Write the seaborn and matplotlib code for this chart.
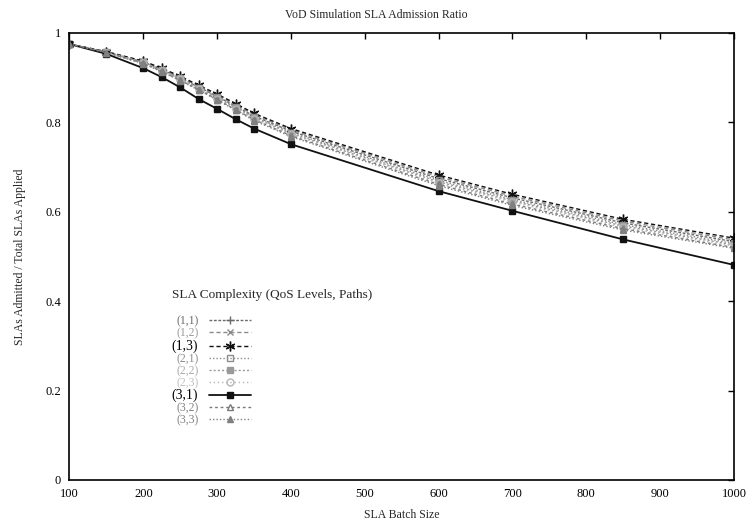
import matplotlib
matplotlib.use("Agg")
import matplotlib.pyplot as plt
import seaborn as sns
import pandas as pd

# SLA batch sizes on the x axis
batch_sizes = [100, 150, 200, 225, 250, 275, 300, 325, 350, 400, 600, 700, 850, 1000]

# admission ratio per SLA complexity (QoS levels, paths)
ratio_1_1 = [.975, .957, .935, .918, .899, .879, .858, .836, .814, .780, .674, .631, .575, .533]
ratio_1_2 = [.975, .958, .936, .920, .901, .881, .860, .839, .817, .783, .678, .635, .579, .537]
ratio_1_3 = [.975, .958, .937, .921, .903, .883, .863, .842, .820, .786, .682, .639, .583, .541]
ratio_2_1 = [.975, .957, .934, .917, .898, .877, .856, .834, .812, .777, .670, .627, .571, .529]
ratio_2_2 = [.975, .957, .934, .916, .897, .876, .855, .832, .810, .775, .667, .624, .568, .526]
ratio_2_3 = [.975, .956, .933, .915, .896, .875, .853, .830, .808, .773, .664, .621, .565, .523]
ratio_3_1 = [.975, .953, .921, .901, .878, .852, .830, .807, .786, .751, .646, .602, .538, .481]
ratio_3_2 = [.975, .956, .932, .914, .894, .873, .851, .828, .806, .770, .661, .617, .562, .520]
ratio_3_3 = [.975, .956, .931, .913, .893, .872, .850, .827, .804, .768, .658, .614, .559, .518]

series_labels = ["(1,1)", "(1,2)", "(1,3)", "(2,1)", "(2,2)", "(2,3)", "(3,1)", "(3,2)", "(3,3)"]
series_values = [ratio_1_1, ratio_1_2, ratio_1_3, ratio_2_1, ratio_2_2,
                 ratio_2_3, ratio_3_1, ratio_3_2, ratio_3_3]

x_ticks = [100, 200, 300, 400, 500, 600, 700, 800, 900, 1000]
y_ticks = [0, 0.2, 0.4, 0.6, 0.8, 1.0]
y_tick_labels = ["0", "0.2", "0.4", "0.6", "0.8", "1"]

# drawing styles per series: colour, linestyle, marker, marker fill
styles = {
    "(1,1)": dict(color="#6a6a6a", ls=(0, (2, 1.2)), marker="+", mfc="#6a6a6a", ms=6),
    "(1,2)": dict(color="#8a8a8a", ls=(0, (3, 2)), marker="x", mfc="#8a8a8a", ms=5),
    "(1,3)": dict(color="#111111", ls=(0, (3, 2)), marker=(6, 2, 0), mfc="#111111", ms=7),
    "(2,1)": dict(color="#8c8c8c", ls=(0, (1, 1.5)), marker="s", mfc="none", ms=5),
    "(2,2)": dict(color="#9a9a9a", ls=(0, (1.5, 1.5)), marker="s", mfc="#9a9a9a", ms=5),
    "(2,3)": dict(color="#b5b5b5", ls=(0, (1, 2)), marker="o", mfc="none", ms=5),
    "(3,1)": dict(color="#111111", ls="-", marker="s", mfc="#111111", ms=5),
    "(3,2)": dict(color="#7a7a7a", ls=(0, (2, 2)), marker="^", mfc="none", ms=5),
    "(3,3)": dict(color="#808080", ls=(0, (1, 1.5)), marker="^", mfc="#808080", ms=5),
}

rows = []
for label, vals in zip(series_labels, series_values):
    for bx, v in zip(batch_sizes, vals):
        rows.append({"batch": bx, "ratio": v, "complexity": label})
df = pd.DataFrame(rows)

sns.set_theme(style="white")
plt.rcParams["font.family"] = ["Liberation Serif", "DejaVu Serif"]

fig = plt.figure(figsize=(7.52, 5.22), dpi=100)
ax = fig.add_axes([0.0924, 0.0805, 0.8836, 0.8565])

handles = []
for label in series_labels:
    st = styles[label]
    sub = df[df["complexity"] == label]
    sns.lineplot(data=sub, x="batch", y="ratio", ax=ax, color=st["color"],
                 linestyle=st["ls"], linewidth=1.3 if label == "(3,1)" else 1.0,
                 marker=st["marker"], markersize=st["ms"],
                 markerfacecolor=st["mfc"], markeredgecolor=st["color"],
                 markeredgewidth=1.0, label=label, legend=False)
    handles.append(ax.get_lines()[-1])

ax.set_xlim(100, 1000)
ax.set_ylim(0, 1)
ax.set_xticks(x_ticks)
ax.set_xticklabels([str(t) for t in x_ticks])
ax.set_yticks(y_ticks)
ax.set_yticklabels(y_tick_labels)
ax.tick_params(direction="in", length=4, width=1, top=True, right=True,
               labelsize=9, colors="black", pad=6)
for side in ax.spines.values():
    side.set_visible(True)
    side.set_color("black")
    side.set_linewidth(1.2)

ax.set_xlabel("SLA Batch Size", fontsize=8.5, labelpad=6)
ax.set_ylabel("SLAs Admitted / Total SLAs Applied", fontsize=8.5, labelpad=14)
fig.text(0.5, 0.972, "VoD Simulation SLA Admission Ratio", ha="center", va="center",
         fontsize=8.5)

# legend heading drawn separately so it sits a little above the entries
ax.text(0.154, 0.414, "SLA Complexity (QoS Levels, Paths)", transform=ax.transAxes,
        ha="left", va="center", fontsize=9.5)

label_colors = ["#6a6a6a", "#9a9a9a", "#000000", "#8c8c8c", "#a8a8a8",
                "#c0c0c0", "#000000", "#808080", "#808080"]
leg = ax.legend(handles=handles, labels=series_labels,
                loc="upper left", bbox_to_anchor=(0.154, 0.368),
                frameon=False, markerfirst=False, fontsize=8.5,
                handlelength=3.6, handletextpad=0.9,
                labelspacing=0.0, borderpad=0.0, borderaxespad=0.0)
for txt, c in zip(leg.get_texts(), label_colors):
    txt.set_color(c)
    if c == "#000000":
        txt.set_fontsize(10)

fig.savefig("out.png", dpi=100, facecolor="white")
